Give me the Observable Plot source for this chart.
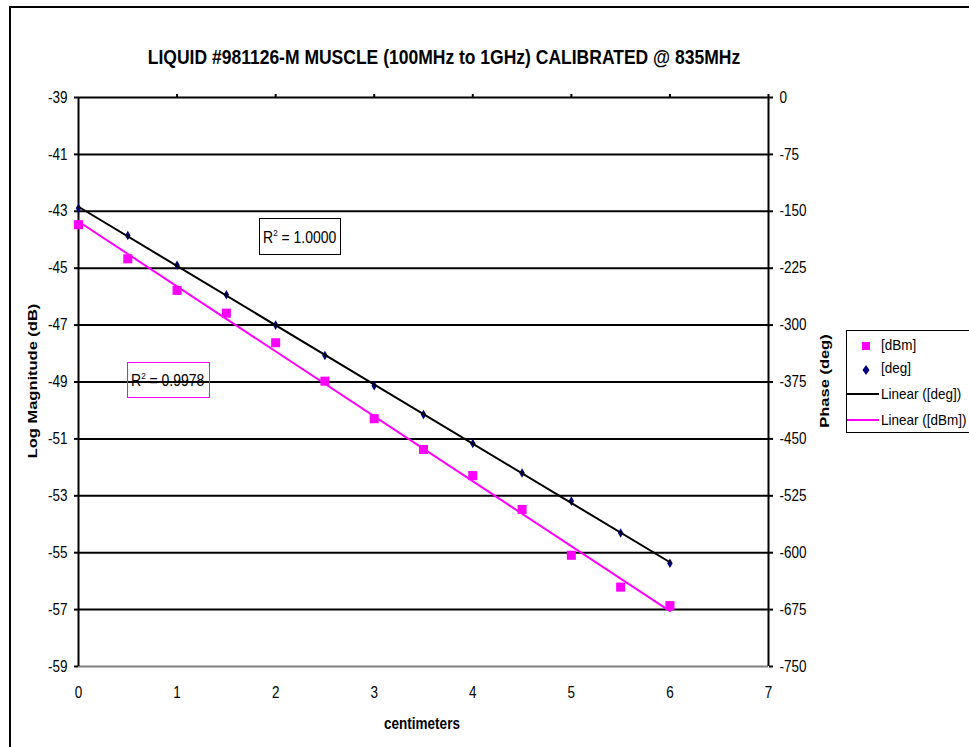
<!DOCTYPE html>
<html>
<head>
<meta charset="utf-8">
<script src="https://cdn.jsdelivr.net/npm/d3@7"></script>
<script src="https://cdn.jsdelivr.net/npm/@observablehq/plot@0.6"></script>
<style>
  html, body { margin: 0; padding: 0; background: #fff; }
  body { width: 969px; height: 747px; overflow: hidden; position: relative; font-family: "Liberation Sans", Arial, sans-serif; }
  #frame { position: absolute; left: 9px; top: 6px; width: 1100px; height: 900px; border: 2px solid #000; box-sizing: border-box; }
  #chart { position: absolute; left: 0; top: 0; }
  .abs { position: absolute; white-space: nowrap; }
  #title { left: 0; width: 888px; top: 47px; text-align: center; font-weight: bold; font-size: 17.5px; transform: scaleY(1.2); }
  .axlabel { font-weight: bold; font-size: 13.5px; }
  .rbox { border: 1px solid #000; font-size: 14px; box-sizing: border-box; display: flex; align-items: center; }
  .rbox span { display: inline-block; transform: scaleY(1.15); }
  .rbox sup { font-size: 8px; line-height: 0; vertical-align: 6px; }
  #legend { left: 846px; top: 330px; width: 150px; height: 103px; border: 1.5px solid #000; background: #fff; box-sizing: border-box; font-size: 13.5px; }
  #legend .item { position: absolute; left: 34px; transform: scaleY(1.15); }
</style>
</head>
<body>
<div id="frame"></div>
<div id="chart"></div>
<div id="title" class="abs"></div>
<div id="ylab" class="abs axlabel"></div>
<div id="y2lab" class="abs axlabel"></div>
<div id="xlab" class="abs axlabel"></div>
<div id="r2deg" class="abs rbox"></div>
<div id="r2dbm" class="abs rbox"></div>
<div id="legend" class="abs"></div>
<script>
// ---- data ----
const titleText = "LIQUID #981126-M MUSCLE (100MHz to 1GHz) CALIBRATED @ 835MHz";
const xLabel = "centimeters";
const yLabel = "Log Magnitude (dB)";
const y2Label = "Phase (deg)";
const positionsCm = [0, 0.5, 1, 1.5, 2, 2.5, 3, 3.5, 4, 4.5, 5, 5.5, 6];
const magnitudeDbm = [-43.47, -44.67, -45.78, -46.58, -47.62, -48.97, -50.29, -51.37, -52.29, -53.48, -55.09, -56.21, -56.86];
const phaseDeg = [-146, -182, -221, -260, -300, -340, -380, -418, -456, -495, -532, -574, -614];
const leftTicks = [-39, -41, -43, -45, -47, -49, -51, -53, -55, -57, -59];
const rightTickLabels = ["0", "-75", "-150", "-225", "-300", "-375", "-450", "-525", "-600", "-675", "-750"];
const xTicks = [0, 1, 2, 3, 4, 5, 6, 7];
const r2DegText = "1.0000";
const r2DbmText = "0.9978";
const legendLabels = ["[dBm]", "[deg]", "Linear ([deg])", "Linear ([dBm])"];

// secondary axis mapping: phase 0..-750 aligned with -39..-59 dB
const phaseToDb = d => -39 + d / 37.5;

const rows = positionsCm.map((x, i) => ({x, dbm: magnitudeDbm[i], deg: phaseToDb(phaseDeg[i])}));

const pink = "#FF00FF";
const navy = "#000080";

const plot = Plot.plot({
  width: 969,
  height: 747,
  marginLeft: 78,
  marginRight: 201,
  marginTop: 97,
  marginBottom: 81,
  x: {domain: [0, 7]},
  y: {domain: [-59, -39]},
  style: {background: "transparent", fontFamily: "Liberation Sans, Arial, sans-serif", fontSize: "13.5px", color: "#000", overflow: "visible"},
  marks: [
    Plot.ruleY(leftTicks.filter(v => v > -59), {stroke: "#000", strokeWidth: 2}),
    Plot.ruleY([-59], {stroke: "#808080", strokeWidth: 2}),
    Plot.ruleX([0, 7], {stroke: "#000", strokeWidth: 2}),
    Plot.axisY(leftTicks, {anchor: "left", tickSize: 4, tickPadding: 7, fontSize: 13.5, tickFormat: d => String(d), label: null, strokeWidth: 2}),
    Plot.axisY(leftTicks, {anchor: "right", tickSize: 4, tickPadding: 7, fontSize: 13.5, tickFormat: d => rightTickLabels[leftTicks.indexOf(d)], label: null, strokeWidth: 2}),
    Plot.axisX(xTicks, {anchor: "bottom", tickSize: 0, tickPadding: 21, fontSize: 13.5, tickFormat: d => String(d), label: null}),
    Plot.axisX(xTicks.slice(1), {anchor: "top", tickSize: 4, tickFormat: () => "", label: null, strokeWidth: 2}),
    Plot.dot(rows, {x: "x", y: "dbm", symbol: "square", fill: pink, r: 5.1, stroke: null}),
    Plot.dot(rows, {x: "x", y: "deg", symbol: "diamond", fill: navy, r: 2.9, stroke: null}),
    Plot.linearRegressionY(rows, {x: "x", y: "deg", stroke: "#000", strokeWidth: 2, ci: 0}),
    Plot.linearRegressionY(rows, {x: "x", y: "dbm", stroke: pink, strokeWidth: 2, ci: 0})
  ]
});
document.getElementById("chart").appendChild(plot);

// stretch tick labels vertically like the reference rendering
plot.querySelectorAll("text").forEach(t => {
  const b = t.getBBox();
  const cx = b.x + b.width / 2, cy = b.y + b.height / 2;
  const prev = t.getAttribute("transform") || "";
  t.setAttribute("transform", `${prev} translate(${cx},${cy}) scale(1,1.18) translate(${-cx},${-cy})`);
});

// texts
document.getElementById("title").textContent = titleText;
const ylab = document.getElementById("ylab");
ylab.textContent = yLabel;
ylab.style.cssText = "left:32px; top:381px; transform: translate(-50%,-50%) scaleY(1.22) rotate(-90deg);";
const y2lab = document.getElementById("y2lab");
y2lab.textContent = y2Label;
y2lab.style.cssText = "left:824px; top:381px; transform: translate(-50%,-50%) scaleY(1.22) rotate(-90deg);";
const xlab = document.getElementById("xlab");
xlab.textContent = xLabel;
xlab.style.cssText = "left:422px; top:724px; transform: translate(-50%,-50%) scaleY(1.2);";

const r1 = document.getElementById("r2deg");
r1.innerHTML = "<span>R<sup>2</sup> = " + r2DegText + "</span>";
r1.style.cssText = "left:259px; top:218px; width:82px; height:37px; padding-left:3px; border-color:#000;";
const r2 = document.getElementById("r2dbm");
r2.innerHTML = "<span>R<sup>2</sup> = " + r2DbmText + "</span>";
r2.style.cssText = "left:127px; top:362px; width:83px; height:36px; padding-left:3px; border-color:" + pink + ";";

// legend
const lg = document.getElementById("legend");
const rowY = [18, 41, 67, 93];
const sw = [
  `<svg width="30" height="12" style="position:absolute;left:14px;top:${rowY[0]-8}px"><rect x="1" y="1" width="8" height="8" fill="${pink}"/></svg>`,
  `<svg width="30" height="12" style="position:absolute;left:14px;top:${rowY[1]-8}px"><path d="M5 1 L8.5 6 L5 11 L1.5 6 Z" fill="${navy}"/></svg>`,
  `<svg width="34" height="4" style="position:absolute;left:0px;top:${rowY[2]-6}px"><line x1="0" y1="2" x2="32" y2="2" stroke="#000" stroke-width="2"/></svg>`,
  `<svg width="34" height="4" style="position:absolute;left:0px;top:${rowY[3]-6}px"><line x1="0" y1="2" x2="32" y2="2" stroke="${pink}" stroke-width="2"/></svg>`
];
lg.innerHTML = sw.join("") + legendLabels.map((t, i) => `<div class="item" style="top:${rowY[i]-12}px">${t}</div>`).join("");
</script>
</body>
</html>
